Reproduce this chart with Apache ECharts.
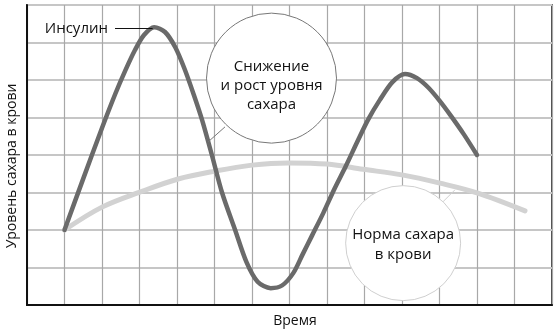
<!DOCTYPE html>
<html>
<head>
<meta charset="utf-8">
<script src="https://cdn.jsdelivr.net/npm/echarts@6/dist/echarts.min.js"></script>
<style>
html,body{margin:0;padding:0;background:#fff;}
#chart{width:558px;height:333px;}
</style>
</head>
<body>
<div id="chart"></div>
<script>
// Data (x = time in grid units, y = level in grid units)
var insulinX = [1, 1.5, 2.0, 2.35, 2.62, 2.88, 3.12, 3.39, 3.68, 3.95, 4.2, 4.45, 4.67, 4.93, 5.2, 5.55, 5.85, 6.15, 6.5, 6.8, 7.1, 7.35, 7.6, 7.9, 8.2, 8.5, 8.83, 9.1, 9.41, 9.75, 10.08, 10.4, 10.7, 11.0, 11.3, 11.65, 12.0];
var insulinY = [2, 3.37, 4.72, 5.62, 6.25, 6.8, 7.2, 7.41, 7.28, 6.88, 6.3, 5.6, 4.93, 4.0, 3.0, 2.0, 1.15, 0.62, 0.45, 0.52, 0.85, 1.35, 1.85, 2.45, 3.1, 3.7, 4.4, 4.95, 5.47, 5.95, 6.16, 6.05, 5.8, 5.45, 5.05, 4.55, 4.0];
var sugarX = [1, 2.0, 3.01, 4.03, 5.01, 6.0, 6.96, 8.0, 8.96, 10.0, 11.01, 12.0, 13.28];
var sugarY = [2, 2.61, 3.01, 3.36, 3.57, 3.73, 3.79, 3.76, 3.62, 3.47, 3.25, 2.99, 2.51];
var xTitle = 'Время';
var yTitle = 'Уровень сахара в крови';
var insulinLabel = 'Инсулин';
var bubble1Text = 'Снижение\nи рост уровня\nсахара';
var bubble2Text = 'Норма сахара\nв крови';

function pairs(xs, ys){ return xs.map(function(x,i){ return [x, ys[i]]; }); }

var chart = echarts.init(document.getElementById('chart'), null, {renderer:'canvas'});
var FONT = 'Open Sans';
chart.setOption({
  animation:false,
  grid:{left:27, top:5, width:525, height:300, show:true, borderColor:'#111', borderWidth:1.5,
    backgroundColor:'transparent', containLabel:false, outerBoundsMode:'none'},
  xAxis:{type:'value', min:0, max:14, interval:1,
    axisLine:{show:true, onZero:false, lineStyle:{color:'#111', width:2}},
    axisTick:{show:false}, axisLabel:{show:false},
    splitLine:{show:true, lineStyle:{color:'#a8a8a8', width:1.2}}},
  yAxis:{type:'value', min:0, max:8, interval:1,
    axisLine:{show:true, onZero:false, lineStyle:{color:'#111', width:2}},
    axisTick:{show:false}, axisLabel:{show:false},
    splitLine:{show:true, lineStyle:{color:'#c6c6c6', width:2}}},
  series:[
    {type:'line', data:pairs(sugarX, sugarY), smooth:0.35, showSymbol:false, symbol:'none',
      lineStyle:{color:'#d2d2d2', width:5, cap:'round'}, z:2},
    {type:'line', data:pairs(insulinX, insulinY), smooth:0.3, showSymbol:false, symbol:'none',
      lineStyle:{color:'#6a6a6a', width:4.5, cap:'round', join:'round'}, z:3}
  ]
});

// Annotation positions in data units
function px(x,y){ return chart.convertToPixel({gridIndex:0}, [x,y]); }
var c1 = px(6.52, 6.05), c2 = px(10.03, 1.65);
var l1a = px(4.83, 4.35), l1b = px(5.28, 4.75);
var l2a = px(11.09, 2.75), l2b = px(11.41, 3.07);
var ins = px(3.35, 7.4), insT = px(2.16, 7.4);
chart.setOption({
  graphic:[
    {type:'line', shape:{x1:l1a[0], y1:l1a[1], x2:l1b[0], y2:l1b[1]}, style:{stroke:'#777', lineWidth:1}, z:10},
    {type:'circle', shape:{cx:c1[0], cy:c1[1], r:65}, style:{fill:'#fff', stroke:'#777', lineWidth:1}, z:11},
    {type:'text', x:c1[0], y:c1[1]+8, style:{text:bubble1Text, fontFamily:FONT, fontSize:15, lineHeight:19, fill:'#111', align:'center', verticalAlign:'middle'}, z:12},
    {type:'line', shape:{x1:l2a[0], y1:l2a[1], x2:l2b[0], y2:l2b[1]}, style:{stroke:'#cfcfcf', lineWidth:1}, z:10},
    {type:'circle', shape:{cx:c2[0], cy:c2[1], r:57.5}, style:{fill:'#fff', stroke:'#cfcfcf', lineWidth:1}, z:11},
    {type:'text', x:c2[0], y:c2[1]+2, style:{text:bubble2Text, fontFamily:FONT, fontSize:15, lineHeight:20, fill:'#111', align:'center', verticalAlign:'middle'}, z:12},
    {type:'line', shape:{x1:insT[0]+7, y1:ins[1]+1, x2:ins[0], y2:ins[1]+1}, style:{stroke:'#111', lineWidth:1}, z:10},
    {type:'text', x:insT[0], y:ins[1]+1, style:{text:insulinLabel, fontFamily:FONT, fontSize:15, fill:'#111', align:'right', verticalAlign:'middle'}, z:12},
    {type:'text', x:295, y:321, style:{text:xTitle, fontFamily:FONT, fontSize:14, fill:'#111', align:'center', verticalAlign:'middle'}, z:12},
    {type:'text', x:12, y:166, rotation:Math.PI/2, style:{text:yTitle, fontFamily:FONT, fontSize:14, fill:'#111', align:'center', verticalAlign:'middle'}, z:12}
  ]
});
</script>
</body>
</html>
